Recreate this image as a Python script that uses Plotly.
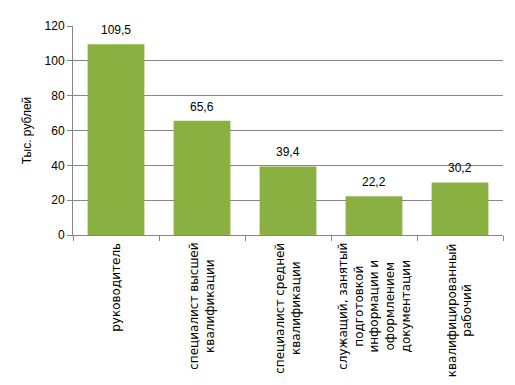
import plotly.graph_objects as go

categories = [
    "руководитель",
    "специалист высшей<br>квалификации",
    "специалист средней<br>квалификации",
    "служащий, занятый<br>подготовкой<br>информации и<br>оформлением<br>документации",
    "квалифицированный<br>рабочий",
]
values = [109.5, 65.6, 39.4, 22.2, 30.2]
value_labels = ["109,5", "65,6", "39,4", "22,2", "30,2"]
y_ticks = [0, 20, 40, 60, 80, 100, 120]

font_family = "Liberation Sans, Arial, sans-serif"
label_family = "DejaVu Sans, sans-serif"

fig = go.Figure(
    go.Bar(
        x=categories,
        y=values,
        marker=dict(color="#8AB042", line=dict(width=0)),
        hoverinfo="x+y",
    )
)

annotations = []
for cat, val, lab in zip(categories, values, value_labels):
    annotations.append(dict(
        x=cat, y=val, xref="x", yref="y", text=lab, showarrow=False,
        xanchor="center", yanchor="bottom", yshift=5,
        font=dict(size=12, color="black", family=font_family),
    ))
    annotations.append(dict(
        x=cat, y=-0.03, xref="x", yref="paper", text=cat, showarrow=False,
        textangle=-90, xanchor="center", yanchor="top", align="center",
        font=dict(size=12, color="black", family=label_family),
    ))

# page body has an 8px default margin, so margins are compensated
fig.update_layout(
    width=515,
    height=385,
    margin=dict(l=65, r=20, t=18, b=158),
    paper_bgcolor="white",
    plot_bgcolor="white",
    bargap=0.34,
    showlegend=False,
    font=dict(family=font_family, size=11, color="black"),
    annotations=annotations,
)

fig.update_xaxes(
    automargin=False,
    showticklabels=False,
    tickson="boundaries",
    ticks="outside",
    ticklen=5,
    tickcolor="#868686",
    showline=True,
    linecolor="#868686",
    linewidth=1,
)

fig.update_yaxes(
    automargin=False,
    range=[0, 120],
    tickvals=y_ticks,
    ticks="outside",
    ticklen=5,
    tickcolor="#868686",
    showline=True,
    linecolor="#868686",
    linewidth=1,
    showgrid=True,
    gridcolor="#868686",
    gridwidth=1,
    zeroline=False,
    tickfont=dict(size=12, family=font_family),
    title=dict(text="Тыс. рублей", font=dict(size=12, family=font_family), standoff=10),
)

fig.write_html("out.html")
